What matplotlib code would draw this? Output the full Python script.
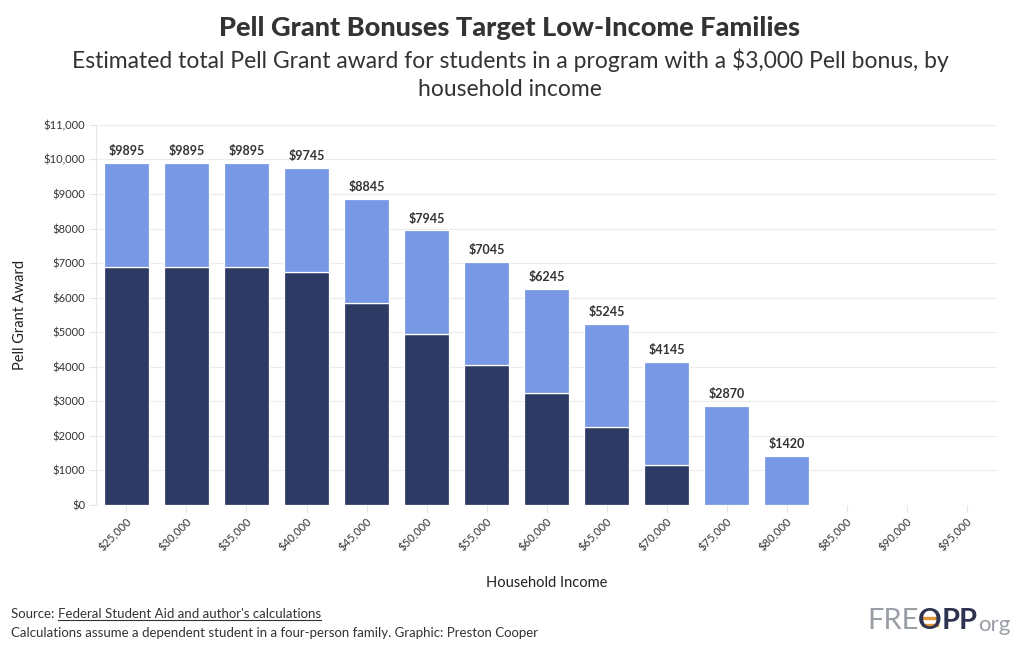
import matplotlib
matplotlib.use("Agg")
import matplotlib.pyplot as plt
import numpy as np

plt.rcParams['font.family'] = ['Lato', 'DejaVu Sans']

incomes = ["$25,000", "$30,000", "$35,000", "$40,000", "$45,000", "$50,000", "$55,000",
           "$60,000", "$65,000", "$70,000", "$75,000", "$80,000", "$85,000", "$90,000", "$95,000"]
base_pell = [6895, 6895, 6895, 6745, 5845, 4945, 4045, 3245, 2245, 1145, 0, 0, 0, 0, 0]
bonus = [3000, 3000, 3000, 3000, 3000, 3000, 3000, 3000, 3000, 3000, 2870, 1420, 0, 0, 0]
totals = [b + x for b, x in zip(base_pell, bonus)]

dark = "#2d3a63"
light = "#7898e6"

fig = plt.figure(figsize=(10.2, 6.5), dpi=100)
ax = fig.add_axes([0.0946, 0.223, 0.8824, 0.585])

x = np.arange(len(incomes))
ax.bar(x, base_pell, width=0.76, color=dark, edgecolor="white", linewidth=0.9, zorder=3)
ax.bar(x, bonus, bottom=base_pell, width=0.76, color=light, edgecolor="white", linewidth=0.9, zorder=3)

for i, t in enumerate(totals):
    if t > 0:
        ax.text(i, t + 170, "$" + str(t), ha="center", va="bottom", fontsize=9,
                fontweight="bold", color="#333333")

ax.set_xlim(-0.5, len(incomes) - 0.5)
ax.set_ylim(0, 11000)
yt = np.arange(0, 11001, 1000)
ax.set_yticks(yt)
ax.set_yticklabels(["$" + (f"{v:,}" if v >= 10000 else str(v)) for v in yt], fontsize=8, color="#333333")
ax.set_xticks(x)
ax.set_xticklabels(incomes, rotation=45, ha="right", rotation_mode="anchor", fontsize=8, color="#333333")

ax.grid(axis="y", color="#ececec", linewidth=0.8, zorder=0)
for s in ["top", "right", "bottom"]:
    ax.spines[s].set_visible(False)
ax.spines["left"].set_color("#e6e6e6")
ax.axhline(0, color="#e6e6e6", linewidth=0.8, zorder=1)
ax.tick_params(axis="both", length=5, color="#e6e6e6", pad=3)

ax.set_ylabel("Pell Grant Award", fontsize=10.5, color="#222222", labelpad=12)
ax.set_xlabel("Household Income", fontsize=10.5, color="#222222", labelpad=16)

fig.text(0.5, 0.957, "Pell Grant Bonuses Target Low-Income Families", ha="center", va="center",
         fontsize=19.5, fontweight="black", color="#333333")
fig.text(0.5, 0.907, "Estimated total Pell Grant award for students in a program with a $3,000 Pell bonus, by",
         ha="center", va="center", fontsize=16.5, color="#333333")
fig.text(0.5, 0.862, "household income", ha="center", va="center", fontsize=16.5, color="#333333")

src = fig.text(0.011, 0.056, "Source: ", ha="left", va="center", fontsize=9.5, color="#333333")
fig.canvas.draw()
bb = src.get_window_extent()
x1 = bb.x1 / fig.bbox.width
link = fig.text(x1, 0.056, "Federal Student Aid and author's calculations", ha="left", va="center",
                fontsize=9.5, color="#333333")
fig.canvas.draw()
lb = link.get_window_extent()
fig.add_artist(plt.Line2D([lb.x0 / fig.bbox.width, lb.x1 / fig.bbox.width],
                          [lb.y0 / fig.bbox.height - 0.001] * 2, color="#333333", linewidth=0.8))
fig.text(0.011, 0.026, "Calculations assume a dependent student in a four-person family. Graphic: Preston Cooper",
         ha="left", va="center", fontsize=9.5, color="#333333")

# logo
lx, ly = 0.850, 0.045
t1 = fig.text(lx, ly, "FRE", ha="left", va="center", fontsize=21, color="#9a9ea6")
fig.canvas.draw()
p = t1.get_window_extent().x1 / fig.bbox.width
t2 = fig.text(p, ly, "O", ha="left", va="center", fontsize=21, color="#2d3350", fontweight="bold")
fig.canvas.draw()
ob = t2.get_window_extent()
ox0, ox1 = ob.x0 / fig.bbox.width, ob.x1 / fig.bbox.width
for dy in (0.005, -0.007):
    fig.add_artist(plt.Line2D([ox0 + 0.005, ox1 - 0.005], [ly + dy, ly + dy], color="#e0953a", linewidth=2.4))
t3 = fig.text(ox1, ly, "PP", ha="left", va="center", fontsize=21, color="#2d3350", fontweight="bold")
fig.canvas.draw()
p = t3.get_window_extent().x1 / fig.bbox.width
fig.text(p, ly - 0.006, "org", ha="left", va="center", fontsize=16, color="#9a9ea6")

fig.savefig("out.png", dpi=100)
